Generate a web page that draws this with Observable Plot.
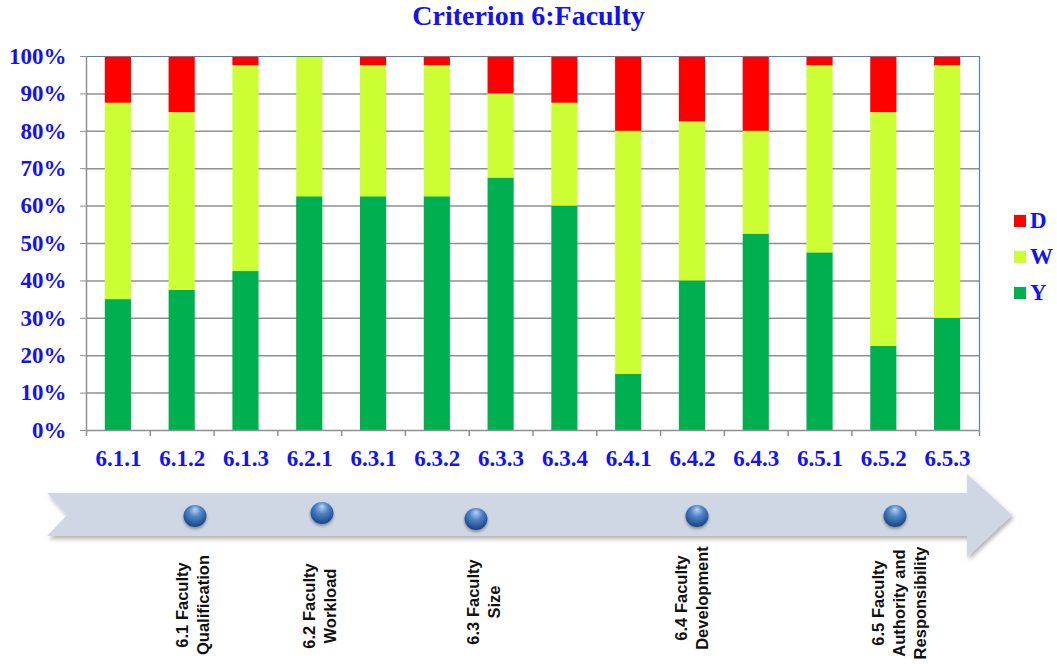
<!DOCTYPE html>
<html>
<head>
<meta charset="utf-8">
<script src="https://cdn.jsdelivr.net/npm/d3@7"></script>
<script src="https://cdn.jsdelivr.net/npm/@observablehq/plot@0.6"></script>
<style>
  body { margin: 0; background: #fff; }
  #chart { position: relative; width: 1057px; height: 667px; overflow: hidden; background: #fff; }
  #title {
    position: absolute; left: 0; top: 0; width: 1057px; height: 40px;
    text-align: center; line-height: 32px;
    font: bold 28px "Liberation Serif", "Times New Roman", serif; color: #1212f2;
  }
  #plot { position: absolute; left: 0; top: 40px; }
  #legend { position: absolute; left: 1014px; top: 203px; font: bold 23px "Liberation Serif", serif; color: #1212f2; }
  #legend .item { display: flex; align-items: center; height: 36px; }
  #legend .swatch { width: 12px; height: 12px; margin-right: 4px; }
  #timeline { position: absolute; left: 0; top: 460px; }
</style>
</head>
<body>
<div id="chart">
  <div id="title">Criterion 6:Faculty</div>
  <div id="plot"></div>
  <div id="legend"></div>
  <div id="timeline"></div>
</div>
<script>
// Indicators of criterion 6 and the share of each rating (percent)
const indicators = ["6.1.1", "6.1.2", "6.1.3", "6.2.1", "6.3.1", "6.3.2", "6.3.3",
                    "6.3.4", "6.4.1", "6.4.2", "6.4.3", "6.5.1", "6.5.2", "6.5.3"];
const yesShare       = [35, 37.5, 42.5, 62.5, 62.5, 62.5, 67.5, 60, 15, 40, 52.5, 47.5, 22.5, 30];
const weakShare      = [52.5, 47.5, 55, 37.5, 35, 35, 22.5, 27.5, 65, 42.5, 27.5, 50, 62.5, 67.5];
const deficientShare = [12.5, 15, 2.5, 0, 2.5, 2.5, 10, 12.5, 20, 17.5, 20, 2.5, 15, 2.5];

const seriesNames  = ["Y", "W", "D"];
const seriesColors = ["#00b050", "#ccff33", "#ff0000"];
const yTicks = [0, 10, 20, 30, 40, 50, 60, 70, 80, 90, 100];

// Sub-criteria shown along the arrow
const sections = [
  ["6.1 Faculty", "Qualification"],
  ["6.2 Faculty", "Workload"],
  ["6.3 Faculty", "Size"],
  ["6.4 Faculty", "Development"],
  ["6.5 Faculty", "Authority and", "Responsibility"]
];

// Long table: Y stacked first (bottom), then W, then D
const shares = [yesShare, weakShare, deficientShare];
const rows = [];
indicators.forEach((ind, i) => {
  seriesNames.forEach((s, k) => rows.push({indicator: ind, series: s, value: shares[k][i]}));
});

const W = 1057, H = 435;
const mL = 86, mR = 78, mT = 16, mB = 45;
const step = (W - mL - mR) / indicators.length;
const gridColor = "#8f8f8f";
const frameColor = "#4f81bd";

const chart = Plot.plot({
  width: W, height: H,
  marginLeft: mL, marginRight: mR, marginTop: mT, marginBottom: mB,
  style: {
    fontFamily: '"Liberation Serif", "Times New Roman", serif',
    fontSize: "23px", fontWeight: "bold", color: "#1212f2",
    background: "transparent", overflow: "visible"
  },
  // unrounded bands so category boundaries fall exactly every `step` pixels
  x: {domain: indicators, paddingInner: 0.59, paddingOuter: 0.295, round: false},
  y: {domain: [0, 100]},
  color: {domain: seriesNames, range: seriesColors},
  marks: [
    Plot.ruleY(yTicks.filter(t => t > 0 && t < 100), {stroke: gridColor, strokeWidth: 1.5}),
    Plot.barY(rows, {x: "indicator", y: "value", fill: "series"}),
    // plot-area border: blue top and right, grey axis lines
    Plot.ruleY([100], {stroke: frameColor, strokeWidth: 1.2}),
    Plot.ruleX([indicators[indicators.length - 1]], {dx: step / 2, stroke: frameColor, strokeWidth: 1.2}),
    Plot.ruleX([indicators[0]], {dx: -step / 2, stroke: gridColor, strokeWidth: 1.5}),
    Plot.ruleY([0], {stroke: gridColor, strokeWidth: 1.5}),
    // category-boundary tick marks under the axis
    Plot.ruleX(indicators, {dx: -step / 2, y1: 0, y2: -1.6, stroke: gridColor, strokeWidth: 1.5}),
    Plot.ruleX([indicators[indicators.length - 1]], {dx: step / 2, y1: 0, y2: -1.6, stroke: gridColor, strokeWidth: 1.5}),
    Plot.axisY({ticks: yTicks, tickFormat: d => d + "%", tickSize: 6, tickPadding: 14, stroke: gridColor, label: null}),
    Plot.axisX({tickSize: 0, tickPadding: 19, label: null})
  ]
});
document.getElementById("plot").appendChild(chart);

// Legend (top item is the top of the stack)
const legend = d3.select("#legend");
[2, 1, 0].forEach(k => {
  const item = legend.append("div").attr("class", "item");
  item.append("div").attr("class", "swatch").style("background", seriesColors[k]);
  item.append("span").text(seriesNames[k]);
});

// Arrow timeline with the sub-criteria
const top0 = 460;
const svg = d3.select("#timeline").append("svg")
  .attr("width", W).attr("height", 667 - top0);
const defs = svg.append("defs");
const shadow = defs.append("filter").attr("id", "arrowShadow")
  .attr("x", "-5%").attr("y", "-20%").attr("width", "110%").attr("height", "160%");
shadow.append("feDropShadow").attr("dx", 2).attr("dy", 3).attr("stdDeviation", 2)
  .attr("flood-color", "#000").attr("flood-opacity", 0.3);
const ball = defs.append("radialGradient").attr("id", "ball")
  .attr("cx", "50%").attr("cy", "35%").attr("r", "60%").attr("fx", "50%").attr("fy", "20%");
ball.append("stop").attr("offset", "0%").attr("stop-color", "#b9d3f2");
ball.append("stop").attr("offset", "45%").attr("stop-color", "#4f86c8");
ball.append("stop").attr("offset", "100%").attr("stop-color", "#1d4a8a");
const ballShadow = defs.append("filter").attr("id", "ballShadow")
  .attr("x", "-50%").attr("y", "-50%").attr("width", "200%").attr("height", "200%");
ballShadow.append("feDropShadow").attr("dx", 0).attr("dy", 2).attr("stdDeviation", 1.5)
  .attr("flood-color", "#000").attr("flood-opacity", 0.35);

const g = svg.append("g").attr("transform", `translate(0,${-top0})`);
const arrow = [[47, 493], [967, 493], [967, 474], [1012, 515], [967, 557], [967, 536], [47, 536], [67, 515]];
g.append("path")
  .attr("d", "M" + arrow.map(p => p.join(",")).join("L") + "Z")
  .attr("fill", "#cfd7e5")
  .attr("filter", "url(#arrowShadow)");

const markers = [[195, 516], [322, 513], [476, 519], [697, 516], [895, 516]];
markers.forEach(([cx, cy]) => {
  g.append("ellipse").attr("cx", cx).attr("cy", cy).attr("rx", 11.5).attr("ry", 11)
    .attr("fill", "url(#ball)").attr("filter", "url(#ballShadow)");
});

const labelCenters = [[192, 605], [319, 606], [483, 602], [691, 598], [899, 603]];
const lineH = 21;
sections.forEach((lines, i) => {
  const [cx, cy] = labelCenters[i];
  const t = g.append("text")
    .attr("transform", `translate(${cx},${cy}) rotate(-90)`)
    .attr("text-anchor", "middle")
    .attr("dominant-baseline", "central")
    .attr("font-family", '"Liberation Sans", Arial, sans-serif')
    .attr("font-weight", "bold")
    .attr("font-size", 16.5)
    .attr("fill", "#111");
  lines.forEach((line, j) => {
    t.append("tspan").attr("x", 0).attr("y", (j - (lines.length - 1) / 2) * lineH).text(line);
  });
});
</script>
</body>
</html>
